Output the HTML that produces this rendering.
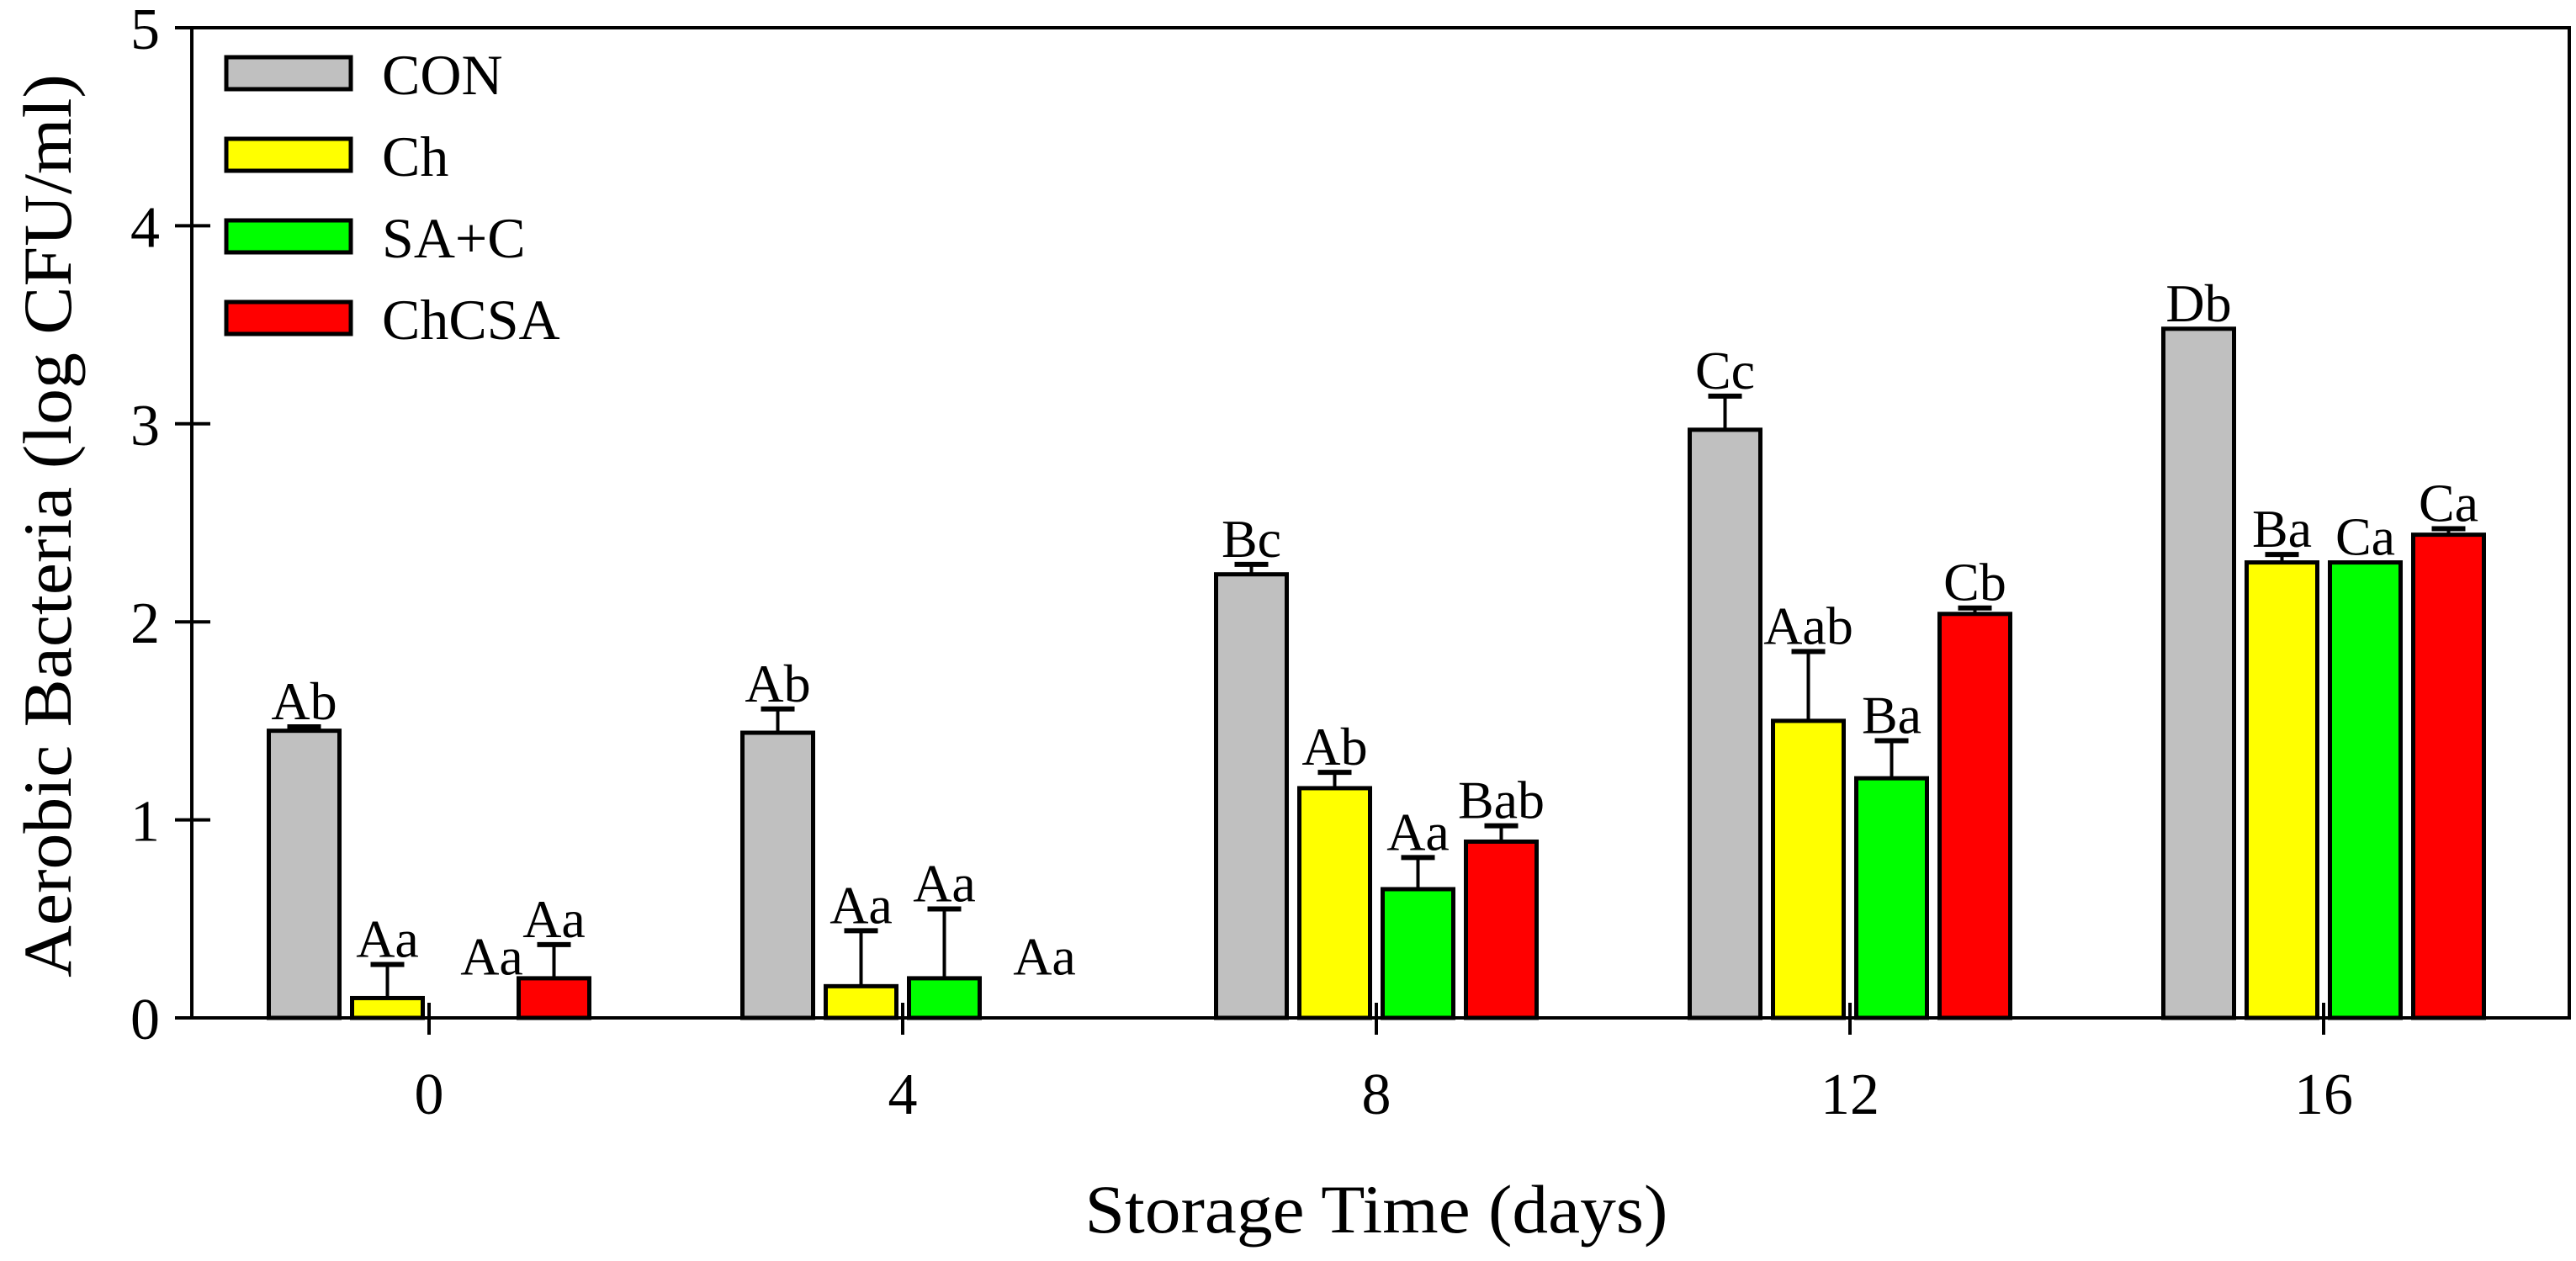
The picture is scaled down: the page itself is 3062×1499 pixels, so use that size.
<!DOCTYPE html>
<html><head><meta charset="utf-8"><style>
html,body{margin:0;padding:0;background:#fff;}
svg{display:block;font-family:"Liberation Serif",serif;}
</style></head><body>
<svg id="chart" width="3062" height="1499" viewBox="0 0 3062 1499" xmlns="http://www.w3.org/2000/svg"></svg>
<script>
const days = [0, 4, 8, 12, 16];
const seriesNames = ["CON", "Ch", "SA+C", "ChCSA"];
const conVals = [1.45, 1.44, 2.24, 2.97, 3.48];
const chVals = [0.10, 0.16, 1.16, 1.50, 2.30];
const sacVals = [0.00, 0.20, 0.65, 1.21, 2.30];
const chcsaVals = [0.20, 0.00, 0.89, 2.04, 2.44];
const conErr = [0.02, 0.12, 0.05, 0.17, 0.00];
const chErr = [0.17, 0.28, 0.08, 0.35, 0.04];
const sacErr = [0.00, 0.35, 0.16, 0.19, 0.00];
const chcsaErr = [0.17, 0.00, 0.08, 0.03, 0.03];
const conLbl = ["Ab", "Ab", "Bc", "Cc", "Db"];
const chLbl = ["Aa", "Aa", "Ab", "Aab", "Ba"];
const sacLbl = ["Aa", "Aa", "Aa", "Ba", "Ca"];
const chcsaLbl = ["Aa", "Aa", "Bab", "Cb", "Ca"];
const yTicks = [0, 1, 2, 3, 4, 5];
const colors = ["#c0c0c0", "#ffff00", "#00ff00", "#ff0000"];

const NS = "http://www.w3.org/2000/svg";
const svg = document.getElementById("chart");
const X0 = 228, X1 = 3054, Y0 = 1210, Y5 = 33;
const yS = v => Y0 - v * (Y0 - Y5) / 5;
const xS = d => 510 + d * (2762 - 510) / 16;
const STRIDE = 99, BW = 84;
function el(tag, attrs, parent) {
  const e = document.createElementNS(NS, tag);
  for (const k in attrs) e.setAttribute(k, attrs[k]);
  (parent || svg).appendChild(e);
  return e;
}
let f = el("rect", {x: X0, y: Y5, width: X1 - X0, height: Y0 - Y5, fill: "none", stroke: "#000", "stroke-width": 4});


let ext = el("line", {x1: 208, y1: Y5, x2: X0, y2: Y5, stroke: "#000", "stroke-width": 4});


let ext2 = el("line", {x1: 208, y1: Y0, x2: X0, y2: Y0, stroke: "#000", "stroke-width": 4});


yTicks.forEach(t => {
  const y = yS(t);
  const l = el("line", {x1: 208, y1: y, x2: 250, y2: y, stroke: "#000", "stroke-width": 4});
  
  
  const tx = el("text", {x: 190, y: y + 25, "font-size": 70, "text-anchor": "end"});
  tx.textContent = t;
  
  
});
days.forEach(d => {
  const x = xS(d);
  const l = el("line", {x1: x, y1: Y0 - 18, x2: x, y2: Y0 + 20, stroke: "#000", "stroke-width": 4});
  
  
  const tx = el("text", {x: x, y: 1324, "font-size": 70, "text-anchor": "middle"});
  tx.textContent = d;
  
  
});
const vals = [conVals, chVals, sacVals, chcsaVals];
const errs = [conErr, chErr, sacErr, chcsaErr];
const lbls = [conLbl, chLbl, sacLbl, chcsaLbl];
days.forEach((d, di) => {
  for (let s = 0; s < 4; s++) {
    const cx = xS(d) + (s - 1.5) * STRIDE;
    const v = vals[s][di], e = errs[s][di];
    if (v > 0) {
      const r = el("rect", {x: cx - BW / 2, y: yS(v), width: BW, height: Y0 - yS(v), fill: colors[s], stroke: "#000", "stroke-width": 5});
      
      
    }
    if (e > 0) {
      const ye = yS(v + e);
      const l1 = el("line", {x1: cx, y1: yS(v), x2: cx, y2: ye, stroke: "#000", "stroke-width": 4});
      
      
      const l2 = el("line", {x1: cx - 20, y1: ye, x2: cx + 20, y2: ye, stroke: "#000", "stroke-width": 6});
      
      
    }
    let top = v + e;
    let lx = cx;
    if (v === 0) { top = 0.18; lx = cx + (s === 3 ? 20 : 25); }
    const t = el("text", {x: lx, y: yS(top) - 9, "font-size": 64, "text-anchor": "middle"});
    t.textContent = lbls[s][di];
    
    
  }
});
seriesNames.forEach((n, i) => {
  const y = 68 + i * 97;
  const r = el("rect", {x: 269, y: y, width: 148, height: 38, fill: colors[i], stroke: "#000", "stroke-width": 5});
  
  
  const t = el("text", {x: 454, y: y + 44, "font-size": 68});
  t.textContent = n;
  
  
});
const xt = el("text", {x: 1636, y: 1465, "font-size": 82, "text-anchor": "middle", textLength: 693, lengthAdjust: "spacingAndGlyphs"});
xt.textContent = "Storage Time (days)";


const yt = el("text", {x: 0, y: 0, "font-size": 82, "text-anchor": "middle", transform: "translate(84,625) rotate(-90)", textLength: 1074, lengthAdjust: "spacingAndGlyphs"});
yt.textContent = "Aerobic Bacteria (log CFU/ml)";


</script>
</body></html>
